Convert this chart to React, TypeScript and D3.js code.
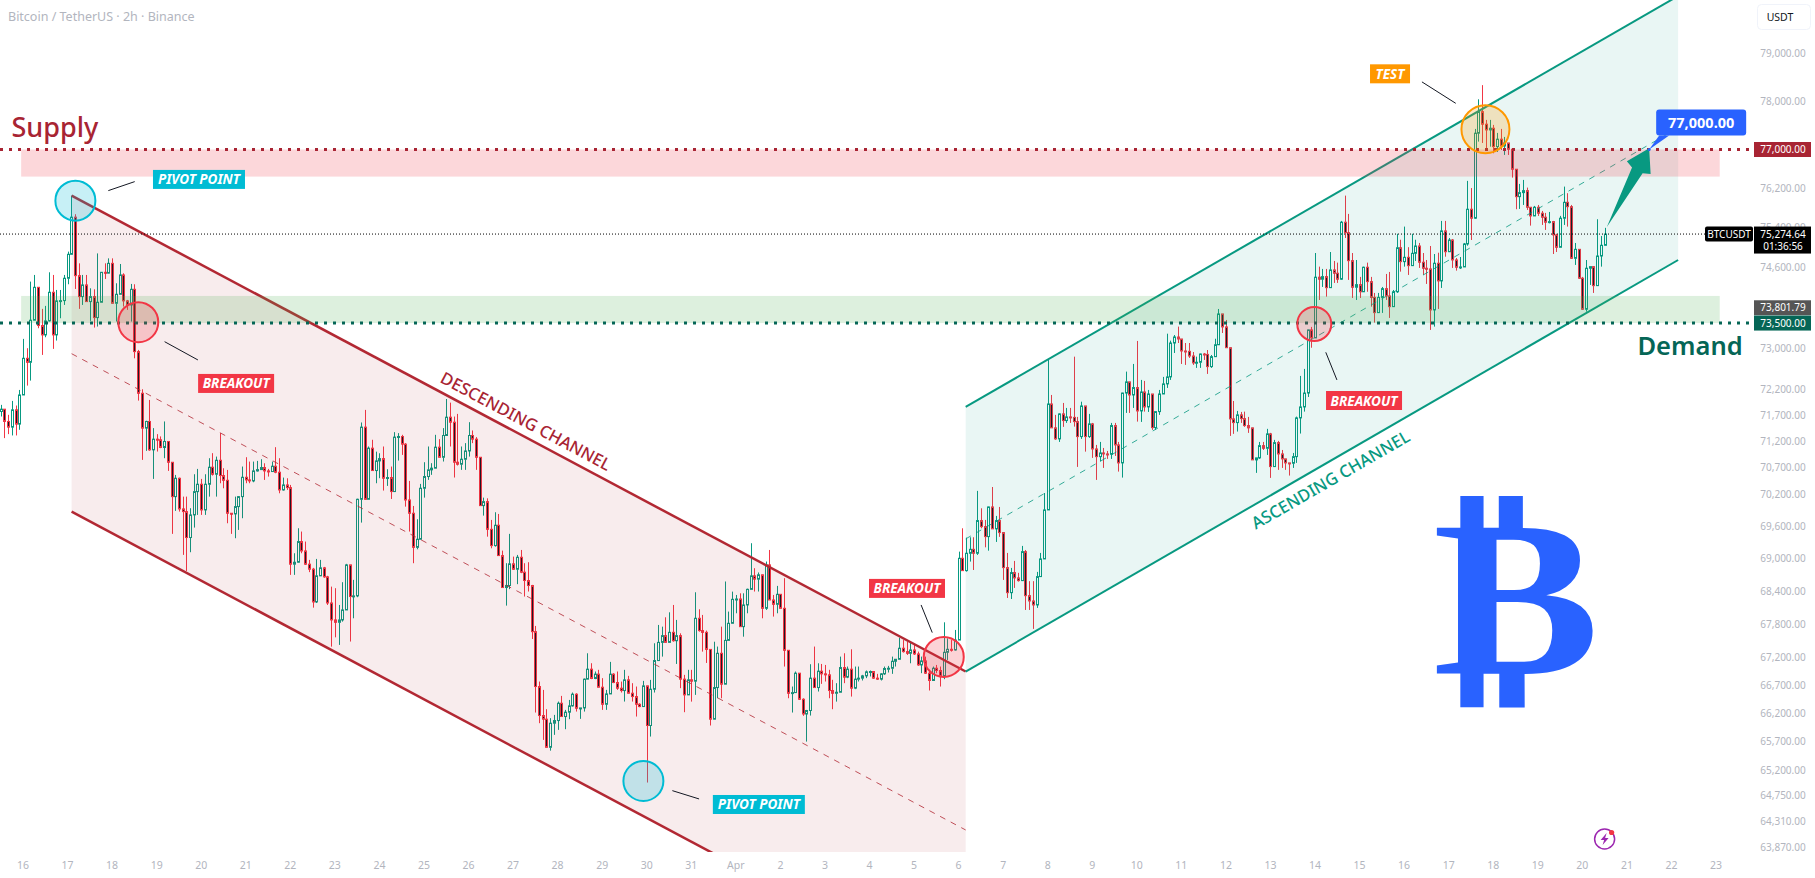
import { useEffect, useRef } from "react";
import * as d3 from "d3";

const WIDTH = 1815;
const HEIGHT = 878;
const PANE_BOTTOM = 852;
const UI_FONT = "'Noto Sans', 'Open Sans', sans-serif";

// 2h BTCUSDT candles. Bar 0 is 16 Mar 00:00, the list starts at bar -6.
const FIRST_BAR = -6;
const firstOpen = 71778;

const closes = [
    71823, 71587, 71478, 71810, 71536, 72097, 72809, 72731, 73556, 74208,
    73451, 73267, 73543, 74109, 73267, 73938, 73944, 74388, 74867, 75616,
    74440, 74023, 74255, 73924, 74023, 73608, 73911, 74507, 74490, 74686,
    73891, 74069, 74454, 73938, 73858, 74168, 72940, 72130, 71459, 71587,
    71044, 71248, 71236, 71089, 71204, 70808, 70159, 70505, 69928, 69878,
    69394, 69816, 70253, 70392, 69909, 70392, 70714, 70581, 70846, 70556,
    70467, 69847, 69835, 69972, 70159, 70524, 70474, 70455, 70644, 70669,
    70708, 70644, 70632, 70733, 70619, 70285, 70379, 70329, 68900, 68936,
    69319, 69145, 68900, 68808, 68206, 68685, 68832, 68666, 68187, 67878,
    67835, 67878, 68060, 68887, 68305, 68317, 70109, 71478, 70109, 71076,
    70651, 70834, 70878, 70506, 70519, 70254, 71287, 71299, 71153, 70096,
    69847, 69212, 69362, 70317, 70538, 70664, 70696, 71095, 70903, 71318,
    71669, 71573, 70809, 70771, 70866, 71023, 71318, 71248, 70903, 69990,
    70065, 69547, 69244, 69623, 69059, 68470, 68507, 68906, 68807, 69028,
    68752, 68599, 68507, 67665, 66677, 66161, 66096, 65600, 66025, 66072,
    66379, 66143, 66220, 66332, 66540, 66290, 66296, 66809, 66988, 66821,
    66899, 66665, 66361, 66545, 66899, 66749, 66647, 66605, 66796, 66558,
    66498, 66361, 66320, 66689, 65984, 66629, 67143, 67471, 67593, 67471,
    67653, 67501, 67593, 66809, 66528, 66797, 66773, 67908, 67684, 67653,
    67344, 66096, 66659, 67274, 66719, 67507, 67817, 68254, 68260, 67756,
    68151, 68437, 68685, 68624, 68704, 68090, 68887, 68242, 68163, 68346,
    68090, 67328, 66557, 66569, 66916, 66450, 66188, 66250, 66827, 66659,
    66952, 66904, 66886, 66606, 66557, 66575, 67017, 66845, 66988, 66648,
    66809, 66827, 66868, 66940, 66946, 66827, 66809, 66904, 67000, 67005,
    67130, 67166, 67365, 67304, 67274, 67334, 67262, 67064, 67136, 66916,
    66785, 67005, 66964, 66868, 67292, 67346, 67334, 67513, 69009, 68781,
    69102, 69175, 69102, 69710, 69597, 69411, 69965, 69555, 69710, 69486,
    68837, 68376, 68745, 68647, 68597, 69132, 68321, 68224, 68151, 68671,
    68997, 69909, 71923, 71464, 71253, 71732, 71604, 71674, 71665, 71584,
    71297, 71885, 71297, 71540, 71061, 70915, 70985, 70966, 70960, 71508,
    71138, 70796, 72134, 72350, 72097, 72240, 71789, 72155, 71866, 72116,
    71469, 71776, 72116, 72311, 72447, 73108, 73226, 73187, 72952, 72945,
    72854, 72719, 72732, 72893, 72885, 72647, 72841, 73074, 73680, 73424,
    73016, 71636, 71565, 71713, 71642, 71508, 71464, 70853, 70891, 71124,
    71074, 71349, 70726, 71182, 70966, 70872, 70796, 70790, 70915, 71655,
    71866, 72134, 73365, 73208, 74409, 74369, 74421, 74201, 74554, 74488,
    74369, 75514, 75303, 74740, 74209, 74261, 74119, 74608, 74321, 74007,
    73706, 74007, 74181, 74036, 73824, 74119, 74999, 74720, 74807, 74640,
    74887, 75034, 74708, 74588, 74574, 73759, 74688, 74335, 75338, 74919,
    75155, 74754, 74608, 74614, 75075, 75777, 75595, 77337, 77785, 77524,
    77405, 77440, 77059, 77213, 77073, 77135, 77005, 76594, 76033, 76115,
    76156, 75817, 75641, 75817, 75696, 75615, 75514, 75526, 75257, 75008,
    75595, 75918, 75829, 74787, 74967, 74389, 73773, 74588, 74620, 74241,
    74833, 75048, 75274.64,
];

const highs = [
    71906, 71823, 71714, 71982, 71893, 72194, 73189, 73006, 74321, 74454,
    74208, 73780, 73839, 74507, 74454, 74155, 74155, 74454, 74921, 76053,
    75676, 74686, 74454, 74454, 74188, 74168, 74885, 74507, 74686, 74786,
    74786, 74288, 74673, 74487, 73957, 74275, 74268, 72973, 72207, 71600,
    72001, 71459, 71344, 71300, 71587, 71204, 70808, 70568, 70518, 70159,
    70159, 69941, 70581, 70682, 70493, 70581, 70885, 70981, 70916, 71363,
    70695, 70663, 69847, 70159, 70170, 70727, 70904, 70821, 70821, 70834,
    70866, 70789, 70682, 70821, 71095, 70885, 70518, 70505, 70379, 69102,
    69567, 69505, 69319, 68979, 68832, 68997, 68979, 68850, 68685, 68487,
    68458, 68151, 68568, 68906, 68887, 68611, 70120, 71567, 71809, 71108,
    71236, 71010, 70979, 71108, 70676, 70727, 71382, 71363, 71331, 71172,
    70455, 69984, 69735, 70399, 70809, 71108, 70790, 71331, 71248, 71459,
    72019, 71949, 71681, 71732, 71108, 71172, 71573, 71414, 71287, 70903,
    70140, 70127, 69722, 69866, 69834, 69151, 68918, 69462, 69040, 69071,
    69163, 68918, 68936, 68519, 67769, 66766, 66617, 66273, 66114, 66172,
    66409, 66510, 66261, 66438, 66570, 66558, 66296, 66820, 67274, 67095,
    66946, 66976, 66827, 66617, 67119, 66916, 66946, 66766, 66976, 66868,
    66737, 66677, 66379, 66778, 66689, 66796, 67455, 67787, 67756, 67926,
    68017, 68151, 67878, 67635, 66886, 66976, 66976, 68383, 68072, 67969,
    67684, 67344, 67483, 67395, 67756, 68581, 68030, 68395, 68334, 68364,
    68364, 68450, 69288, 68826, 68747, 68704, 68949, 69163, 68334, 68500,
    68346, 68642, 67328, 66677, 66946, 66916, 66468, 66261, 67077, 67395,
    67094, 67082, 67064, 66976, 66797, 66737, 67214, 67274, 67035, 67346,
    67035, 67035, 66886, 66964, 66964, 66946, 66904, 66916, 67035, 67047,
    67214, 67170, 67556, 67513, 67483, 67465, 67425, 67304, 67214, 67214,
    66976, 67035, 67064, 67035, 67835, 67544, 67513, 67696, 69132, 69566,
    69392, 69399, 69399, 70267, 69940, 69722, 69970, 70340, 69797, 69965,
    69486, 69108, 68831, 68960, 68740, 69238, 69163, 68587, 68587, 68758,
    69108, 70227, 72777, 72097, 71713, 71740, 71943, 71847, 71847, 72841,
    71674, 71967, 71885, 71732, 71559, 71138, 71195, 71080, 71023, 71559,
    71559, 71195, 72140, 72550, 72350, 72699, 73148, 72388, 72369, 72194,
    72116, 71780, 72194, 72447, 73291, 73154, 73265, 73430, 73187, 73108,
    73108, 72932, 72841, 72900, 72913, 72971, 72874, 73192, 73778, 73680,
    73561, 73016, 71981, 71789, 71770, 71776, 71674, 71464, 70891, 71195,
    71195, 71445, 71368, 71234, 71215, 71042, 70872, 70790, 70985, 71680,
    72466, 72602, 73370, 73424, 74893, 74620, 74574, 74574, 74913, 74734,
    74700, 75540, 76054, 75682, 74893, 74753, 74415, 74620, 74700, 74415,
    74096, 74096, 74215, 74474, 74514, 74155, 75280, 75160, 75425, 75010,
    75280, 75160, 75095, 74893, 74753, 75034, 74873, 74899, 75540, 75540,
    75195, 75175, 74793, 74813, 75095, 76355, 76208, 77426, 78043, 78340,
    77613, 77613, 77509, 77343, 77426, 77260, 77135, 77031, 76594, 76293,
    76375, 76218, 75823, 75844, 75864, 75742, 75702, 75722, 75540, 75280,
    75642, 76238, 76103, 75864, 75095, 74973, 74415, 74753, 74620, 74620,
    75574, 75234, 75400,
];

const lows = [
    71682, 71268, 71344, 71319, 71319, 71427, 72097, 72278, 72375, 73556,
    73398, 72875, 73221, 73530, 72993, 73156, 73595, 73858, 74268, 74867,
    74175, 73780, 73858, 73924, 73543, 73411, 73431, 73911, 74374, 74487,
    73891, 73530, 74069, 73826, 73760, 73530, 72809, 71988, 70853, 71025,
    71025, 70493, 71012, 71076, 70885, 70644, 69462, 69891, 69878, 69072,
    68775, 69121, 69579, 69816, 69816, 69816, 70159, 70556, 70159, 70411,
    70316, 69660, 69462, 69381, 69536, 69754, 70411, 70411, 70430, 70632,
    70669, 70474, 70537, 70632, 70600, 70222, 70272, 70285, 68703, 68703,
    68930, 69102, 68887, 68753, 68102, 68187, 68685, 68648, 68151, 67394,
    67562, 67425, 67847, 68060, 67486, 67908, 68293, 69672, 70109, 70109,
    70651, 70411, 70506, 70273, 70361, 70115, 70254, 70840, 70948, 69971,
    69505, 68918, 69175, 69362, 70140, 70475, 70570, 70696, 70903, 70822,
    71318, 71108, 70519, 70746, 70664, 70664, 70916, 71172, 70664, 69990,
    69803, 69410, 69194, 69225, 69059, 68470, 68139, 68440, 68795, 68532,
    68734, 68305, 68397, 67532, 66214, 66025, 65730, 65600, 65541, 65819,
    65907, 66143, 65919, 66096, 66320, 66231, 66102, 66231, 66809, 66809,
    66809, 66665, 66261, 66261, 66545, 66737, 66617, 66570, 66409, 66558,
    66409, 66143, 66308, 66320, 64983, 65789, 66570, 67143, 67214, 67471,
    67471, 67483, 67082, 66648, 66220, 66528, 66408, 66528, 67665, 67304,
    67100, 65984, 66096, 66468, 66468, 66719, 67507, 67817, 67999, 67756,
    67574, 67999, 68437, 68397, 68397, 67908, 68060, 68242, 67939, 67999,
    68090, 67035, 66468, 66214, 66569, 66438, 66155, 65700, 66160, 66659,
    66588, 66725, 66767, 66468, 66273, 66408, 66575, 66737, 66827, 66498,
    66630, 66767, 66785, 66827, 66857, 66815, 66797, 66785, 66886, 66928,
    66904, 67035, 67166, 67286, 67244, 67094, 67244, 67047, 66916, 66904,
    66606, 66785, 66916, 66677, 66809, 67154, 67304, 67322, 67513, 68781,
    68763, 68948, 68793, 69071, 69566, 69212, 69150, 69555, 69312, 69406,
    68610, 68279, 68260, 68463, 68579, 68592, 68060, 68060, 67715, 68097,
    68671, 68997, 69909, 71464, 71234, 71195, 71483, 71559, 71559, 71488,
    70720, 71253, 71010, 71272, 70891, 70474, 70821, 70701, 70872, 70872,
    70928, 70631, 70518, 71751, 71751, 71847, 71584, 71578, 71776, 71770,
    71425, 71425, 71713, 72116, 72233, 72388, 72913, 73108, 72699, 72680,
    72816, 72680, 72622, 72622, 72777, 72505, 72622, 72841, 73074, 73305,
    73016, 71310, 71349, 71393, 71559, 71483, 71368, 70853, 70607, 70872,
    71042, 70947, 70512, 70726, 70664, 70701, 70664, 70556, 70701, 70796,
    71355, 71776, 72058, 73016, 73208, 73956, 74215, 74022, 74201, 74295,
    74295, 74355, 75196, 74355, 73996, 73956, 73996, 74119, 74119, 73824,
    73509, 73700, 73700, 73956, 73601, 73824, 74096, 74520, 74620, 74454,
    74640, 74734, 74594, 74454, 74275, 73365, 73430, 73779, 74195, 74819,
    74913, 74594, 74540, 74574, 74614, 75040, 75155, 75580, 77163, 77135,
    77031, 77059, 76922, 76950, 76990, 76888, 76888, 76422, 75777, 75783,
    75864, 75763, 75445, 75641, 75641, 75459, 75358, 75490, 74873, 74913,
    75008, 75459, 75425, 74773, 74654, 74375, 73759, 73725, 74255, 74096,
    74241, 74620, 75048,
];

const priceTicks = [
    79000, 78000, 76200, 75400, 74600, 73000, 72200, 71700, 71200, 70700, 70200, 69600,
    69000, 68400, 67800, 67200, 66700, 66200, 65700, 65200, 64750, 64310, 63870,
];

// levels and drawing anchors: [bar, price]
const SUPPLY = 77000;
const SUPPLY_EDGE = 76443;
const DEMAND = 73500;
const DEMAND_EDGE = 74036;
const LAST_PRICE = 75274.64;
const SMA_PRICE = 73801.79;
const ZONE_BARS = [-0.5, 457];

const descTop = [[13.09, 76053], [253.9, 66946]];
const descMid = [[13.09, 72899], [253.9, 64162]];
const descBottom = [[13.09, 69878], [253.9, 61504]];
const ascTop = [[253.9, 71866], [445.8, 80234]];
const ascMid = [[253.9, 69368], [445.8, 77447]];
const ascBottom = [[253.9, 66946], [445.8, 74753]];

const circles = [
    { bar: 14.11, price: 75951, r: 20, color: "#00bcd4" },
    { bar: 167.1, price: 65010, r: 20, color: "#00bcd4" },
    { bar: 31.05, price: 73517, r: 20, color: "#f23645" },
    { bar: 248, price: 67209, r: 20, color: "#f23645" },
    { bar: 347.8, price: 73483, r: 17, color: "#f23645" },
    { bar: 393.9, price: 77420, r: 24, color: "#ff9800" },
];

const tags = [
    { text: "PIVOT POINT", bar: 47.4, price: 76385, w: 92, color: "#00bcd4" },
    { text: "BREAKOUT", bar: 57.4, price: 72320, w: 76, color: "#f23645" },
    { text: "PIVOT POINT", bar: 198.2, price: 64602, w: 92, color: "#00bcd4" },
    { text: "BREAKOUT", bar: 238.1, price: 68454, w: 76, color: "#f23645" },
    { text: "BREAKOUT", bar: 361.2, price: 71990, w: 76, color: "#f23645" },
    { text: "TEST", bar: 368.2, price: 78578, w: 40, color: "#ff9800" },
];

const connectors = [
    [[22.98, 76156], [30.09, 76340]],
    [[38.14, 73134], [47.11, 72777]],
    [[174.9, 64842], [182.1, 64698]],
    [[241.9, 68151], [244.9, 67648]],
    [[350.9, 72926], [353.9, 72388]],
    [[376.8, 78408], [385.9, 77959]],
];

const arrowFrom = [426.6, 75418];
const arrowTo = [438, 77025];

const fmt = d3.format(",.2f");

const App: React.FC = () => {
    const svgRef = useRef<SVGSVGElement | null>(null);

    useEffect(() => {
        if (!svgRef.current) return;

        const svg = d3.select(svgRef.current);
        svg.selectAll("*").remove();

        const t0 = Date.UTC(2026, 2, 16);
        const x = d3.scaleUtc().domain([new Date(t0), new Date(Date.UTC(2026, 3, 23))]).range([23, 1716]);
        const y = d3.scaleLog().domain([77000, 63870]).range([149.5, 847]);
        const xAt = (bar: number) => x(new Date(t0 + bar * 2 * 3600 * 1000));
        const pt = (d: number[]): [number, number] => [xAt(d[0]), y(d[1])];

        svg.append("rect").attr("width", WIDTH).attr("height", HEIGHT).attr("fill", "#fff");

        svg.append("defs")
            .append("clipPath")
            .attr("id", "pane")
            .append("rect")
            .attr("width", 1752)
            .attr("height", PANE_BOTTOM);

        const pane = svg.append("g").attr("clip-path", "url(#pane)");

        // candles
        const candles = closes.map((c, i) => ({
            bar: FIRST_BAR + i,
            open: i === 0 ? firstOpen : closes[i - 1],
            close: c,
            high: highs[i],
            low: lows[i],
        }));
        const up = "#089981";
        const down = "#f23645";

        const candle = pane.append("g").selectAll("g").data(candles).join("g");
        candle
            .append("line")
            .attr("x1", (d) => Math.round(xAt(d.bar)) + 0.5)
            .attr("x2", (d) => Math.round(xAt(d.bar)) + 0.5)
            .attr("y1", (d) => y(d.high))
            .attr("y2", (d) => y(d.low))
            .attr("stroke", (d) => (d.close >= d.open ? up : down));
        candle
            .append("rect")
            .attr("x", (d) => Math.round(xAt(d.bar)) - 0.5)
            .attr("width", 2)
            .attr("y", (d) => y(Math.max(d.open, d.close)))
            .attr("height", (d) => Math.max(1, Math.abs(y(d.open) - y(d.close))))
            .attr("fill", (d) => (d.close >= d.open ? "#fff" : "#131722"))
            .attr("stroke", (d) => (d.close >= d.open ? up : down));

        // channels
        const channel = (top: number[][], bottom: number[][], mid: number[][], color: string, width: number) => {
            pane.append("path")
                .attr("d", d3.line()([pt(top[0]), pt(top[1]), pt(bottom[1]), pt(bottom[0])]) + "Z")
                .attr("fill", color)
                .attr("fill-opacity", 0.09);
            [top, bottom].forEach((l) =>
                pane.append("path")
                    .attr("d", d3.line()(l.map(pt)))
                    .attr("stroke", color)
                    .attr("stroke-width", width)
                    .attr("fill", "none"),
            );
            pane.append("path")
                .attr("d", d3.line()(mid.map(pt)))
                .attr("stroke", color)
                .attr("stroke-opacity", 0.8)
                .attr("stroke-dasharray", "6 6")
                .attr("fill", "none");
        };
        channel(descTop, descBottom, descMid, "#b22833", 2.5);
        channel(ascTop, ascBottom, ascMid, up, 2);

        // zones
        const zone = (a: number, b: number, color: string, op: number) =>
            pane.append("rect")
                .attr("x", xAt(ZONE_BARS[0]))
                .attr("width", xAt(ZONE_BARS[1]) - xAt(ZONE_BARS[0]))
                .attr("y", y(a))
                .attr("height", y(b) - y(a))
                .attr("fill", color)
                .attr("fill-opacity", op);
        zone(SUPPLY, SUPPLY_EDGE, "#f23645", 0.2);
        zone(DEMAND_EDGE, DEMAND, "#4caf50", 0.19);

        // level lines
        const level = (p: number, color: string) =>
            svg.append("line")
                .attr("x1", 0)
                .attr("x2", 1750)
                .attr("y1", y(p))
                .attr("y2", y(p))
                .attr("stroke", color)
                .attr("stroke-width", 3)
                .attr("stroke-dasharray", "3 6");
        level(SUPPLY, "#a82433");
        level(DEMAND, "#056656");

        svg.append("line")
            .attr("x1", 0)
            .attr("x2", 1705)
            .attr("y1", y(LAST_PRICE))
            .attr("y2", y(LAST_PRICE))
            .attr("stroke", "#000")
            .attr("stroke-dasharray", "1 2");

        // circles, connectors, tags
        svg.append("g")
            .selectAll("circle")
            .data(circles)
            .join("circle")
            .attr("cx", (d) => xAt(d.bar))
            .attr("cy", (d) => y(d.price))
            .attr("r", (d) => d.r)
            .attr("fill", (d) => d.color)
            .attr("fill-opacity", 0.22)
            .attr("stroke", (d) => d.color)
            .attr("stroke-width", 2);

        svg.append("g")
            .selectAll("path")
            .data(connectors)
            .join("path")
            .attr("d", (d) => d3.line()(d.map(pt)))
            .attr("stroke", "#131722")
            .attr("stroke-width", 1);

        const tag = svg.append("g").selectAll("g").data(tags).join("g")
            .attr("transform", (d) => `translate(${xAt(d.bar)},${y(d.price)})`);
        tag.append("rect")
            .attr("x", (d) => -d.w / 2)
            .attr("y", -9.5)
            .attr("width", (d) => d.w)
            .attr("height", 19)
            .attr("fill", (d) => d.color);
        tag.append("text")
            .attr("text-anchor", "middle")
            .attr("y", 5)
            .attr("fill", "#fff")
            .attr("font-family", UI_FONT)
            .attr("font-size", 13.5)
            .attr("font-weight", 700)
            .attr("font-style", "italic")
            .text((d) => d.text);

        // channel names, zone names
        const label = (text: string, bar: number, price: number, angle: number, size: number, color: string, weight: number) =>
            svg.append("text")
                .attr("transform", `translate(${xAt(bar)},${y(price)}) rotate(${angle})`)
                .attr("text-anchor", "middle")
                .attr("dominant-baseline", "central")
                .attr("fill", color)
                .attr("font-family", UI_FONT)
                .attr("font-size", size)
                .attr("font-weight", weight)
                .text(text);
        label("DESCENDING CHANNEL", 135.5, 71600, 28, 16.8, "#a82433", 500);
        label("ASCENDING CHANNEL", 352.1, 70485, -30, 16.8, up, 500);
        label("Supply", 8.6, 77478, 0, 27, "#a82433", 500);
        label("Demand", 449, 73068, 0, 25.5, "#056656", 600);

        // target arrow
        const [ax, ay] = pt(arrowFrom);
        const [bx, by] = pt(arrowTo);
        const len = Math.hypot(bx - ax, by - ay);
        const ux = (bx - ax) / len;
        const uy = (by - ay) / len;
        const local = (a: number, c: number): [number, number] => [ax + ux * a - uy * c, ay + uy * a + ux * c];
        svg.append("path")
            .attr("d", d3.line()([local(0, 0), local(len - 25, -6), local(len - 22, -13.5), local(len, 0), local(len - 22, 13.5), local(len - 25, 6)]) + "Z")
            .attr("fill", up);

        // 77,000 callout
        const tipX = bx;
        const tipY = y(SUPPLY);
        svg.append("path")
            .attr("d", d3.line()([[tipX + 10, tipY - 14], [tipX, tipY], [tipX + 20, tipY - 14]]) + "Z")
            .attr("fill", "#2962ff");
        svg.append("circle").attr("cx", tipX).attr("cy", tipY).attr("r", 1.5).attr("fill", "#2962ff");
        svg.append("rect")
            .attr("x", tipX + 7)
            .attr("y", tipY - 40)
            .attr("width", 90)
            .attr("height", 26)
            .attr("rx", 3)
            .attr("fill", "#2962ff");
        svg.append("text")
            .attr("x", tipX + 52)
            .attr("y", tipY - 22)
            .attr("text-anchor", "middle")
            .attr("fill", "#fff")
            .attr("font-family", UI_FONT)
            .attr("font-size", 14.5)
            .attr("font-weight", 700)
            .text(fmt(SUPPLY));

        // bitcoin mark
        svg.append("text")
            .attr("transform", "translate(1516,673.3) scale(1,0.89)")
            .attr("text-anchor", "middle")
            .attr("fill", "#2962ff")
            .attr("font-family", "'DejaVu Sans'")
            .attr("font-weight", 700)
            .attr("font-size", 250)
            .text("₿");

        // price axis
        svg.append("g")
            .selectAll("text")
            .data(priceTicks)
            .join("text")
            .attr("x", 1783)
            .attr("y", (d) => y(d))
            .attr("dy", "0.35em")
            .attr("text-anchor", "middle")
            .attr("fill", "#b2b5be")
            .attr("font-family", UI_FONT)
            .attr("font-size", 10)
            .text((d) => fmt(d));

        const axisTag = (p: number, color: string, text: string) => {
            svg.append("rect").attr("x", 1754).attr("width", 57).attr("y", y(p) - 7.5).attr("height", 15).attr("fill", color);
            svg.append("text")
                .attr("x", 1783)
                .attr("y", y(p))
                .attr("dy", "0.35em")
                .attr("text-anchor", "middle")
                .attr("fill", "#fff")
                .attr("font-family", UI_FONT)
                .attr("font-size", 10)
                .text(text);
        };
        axisTag(SUPPLY, "#a82433", fmt(SUPPLY));
        axisTag(SMA_PRICE, "#555555", fmt(SMA_PRICE));
        axisTag(DEMAND, "#056656", fmt(DEMAND));

        // last price tag with countdown
        const ly = y(LAST_PRICE);
        svg.append("rect").attr("x", 1754).attr("width", 57).attr("y", ly - 7.5).attr("height", 27).attr("fill", "#000");
        svg.append("rect").attr("x", 1705).attr("width", 48).attr("y", ly - 7.5).attr("height", 15).attr("rx", 2).attr("fill", "#000");
        [
            { x: 1783, dy: 0, text: fmt(LAST_PRICE) },
            { x: 1783, dy: 12, text: "01:36:56" },
            { x: 1729, dy: 0, text: "BTCUSDT" },
        ].forEach((d) =>
            svg.append("text")
                .attr("x", d.x)
                .attr("y", ly + d.dy)
                .attr("dy", "0.35em")
                .attr("text-anchor", "middle")
                .attr("fill", "#fff")
                .attr("font-family", UI_FONT)
                .attr("font-size", 10)
                .text(d.text),
        );

        // currency button
        svg.append("rect")
            .attr("x", 1757.5)
            .attr("y", 4.5)
            .attr("width", 53)
            .attr("height", 25)
            .attr("rx", 4)
            .attr("fill", "#fff")
            .attr("stroke", "#f0f3fa");
        svg.append("text")
            .attr("x", 1780)
            .attr("y", 17)
            .attr("dy", "0.35em")
            .attr("text-anchor", "middle")
            .attr("fill", "#131722")
            .attr("font-family", UI_FONT)
            .attr("font-size", 10.5)
            .text("USDT");

        // time axis
        svg.append("g")
            .selectAll("text")
            .data(d3.utcDay.range(new Date(t0), new Date(Date.UTC(2026, 3, 24))))
            .join("text")
            .attr("x", (d) => x(d))
            .attr("y", 865)
            .attr("dy", "0.35em")
            .attr("text-anchor", "middle")
            .attr("fill", "#b2b5be")
            .attr("font-family", UI_FONT)
            .attr("font-size", 10.5)
            .text((d) => (d.getUTCDate() === 1 ? d3.utcFormat("%b")(d) : String(d.getUTCDate())));

        // title
        svg.append("text")
            .attr("x", 8)
            .attr("y", 17)
            .attr("dy", "0.35em")
            .attr("fill", "#b2b5be")
            .attr("font-family", UI_FONT)
            .attr("font-size", 12.5)
            .text("Bitcoin / TetherUS · 2h · Binance");

        // publish badge
        const badge = svg.append("g").attr("transform", `translate(${xAt(426)},839)`);
        badge.append("circle").attr("r", 10).attr("fill", "none").attr("stroke", "#9c27b0").attr("stroke-width", 1.5);
        badge.append("path").attr("d", "M2 -6 L-4 1 L-0.5 1 L-2 6 L4 -1 L0.5 -1 Z").attr("fill", "#9c27b0");
        badge.append("circle").attr("cx", 7).attr("cy", -6.5).attr("r", 2.6).attr("fill", "#f23645");
    }, []);

    return (
        <svg
            ref={svgRef}
            width={WIDTH}
            height={HEIGHT}
            style={{ position: "fixed", left: 0, top: 0, display: "block" }}
        />
    );
};

export default App;
